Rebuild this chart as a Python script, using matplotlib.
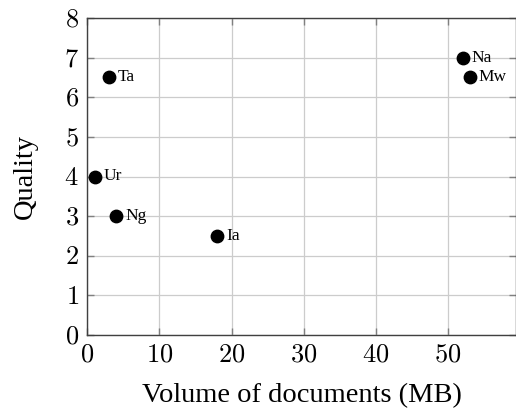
import matplotlib
matplotlib.use("Agg")
import matplotlib.pyplot as plt

# datos
etiquetas = ["Ta", "Ur", "Ng", "Ia", "Na", "Mw"]
volumen = [3, 1, 4, 18, 52, 53]
calidad = [6.5, 4, 3, 2.5, 7, 6.5]
x_ticks = [0, 10, 20, 30, 40, 50]
y_ticks = [0, 1, 2, 3, 4, 5, 6, 7, 8]

plt.rcParams['font.family'] = ['Liberation Serif', 'DejaVu Serif']
plt.rcParams['mathtext.fontset'] = 'cm'

fig = plt.figure(figsize=(5.16, 4.12), dpi=100)
ax = fig.add_axes([87.3 / 516, 1 - 335 / 412, (516 - 87.3) / 516, (335 - 18) / 412])

ax.scatter(volumen, calidad, s=80, color='black', zorder=3, clip_on=False)
for et, xv, yv in zip(etiquetas, volumen, calidad):
    ax.annotate(et, (xv, yv), xytext=(6.5, 0), textcoords='offset points',
                va='center', ha='left', fontsize=12.5)

ax.set_xlim(0, 59.4)
ax.set_ylim(0, 8)
ax.set_xticks(x_ticks)
ax.set_yticks(y_ticks)
ax.set_xticklabels([f"${t}$" for t in x_ticks], fontsize=19)
ax.set_yticklabels([f"${t}$" for t in y_ticks], fontsize=19)
ax.tick_params(direction='in', length=5, width=1, color='#808080',
               top=True, right=True)
ax.tick_params(axis='x', pad=7)
ax.tick_params(axis='y', pad=6)

ax.grid(True, color='#cccccc', linewidth=0.9)
ax.set_axisbelow(True)
for sp in ax.spines.values():
    sp.set_color('#404040')
    sp.set_linewidth(1.0)

ax.set_xlabel("Volume of documents (MB)", fontsize=20.5, labelpad=12)
ax.set_ylabel("Quality", fontsize=20.5, labelpad=19)

fig.savefig("out.png", dpi=100)
